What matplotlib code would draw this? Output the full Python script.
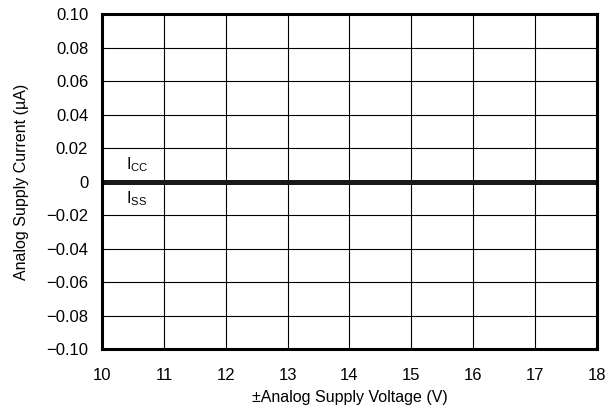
import matplotlib
matplotlib.use('Agg')
import matplotlib.pyplot as plt
import numpy as np

plt.rcParams['font.family'] = ['Liberation Sans', 'DejaVu Sans']
plt.rcParams['mathtext.fontset'] = 'custom'
plt.rcParams['mathtext.rm'] = 'Liberation Sans'
plt.rcParams['mathtext.it'] = 'Liberation Sans'
plt.rcParams['axes.unicode_minus'] = True

# data
voltage = [10, 11, 12, 13, 14, 15, 16, 17, 18]
icc = [0, 0, 0, 0, 0, 0, 0, 0, 0]
iss = [0, 0, 0, 0, 0, 0, 0, 0, 0]
xticks = [10, 11, 12, 13, 14, 15, 16, 17, 18]
yticks = [-0.10, -0.08, -0.06, -0.04, -0.02, 0, 0.02, 0.04, 0.06, 0.08, 0.10]

fig = plt.figure(figsize=(6.11, 4.15), dpi=100)
ax = fig.add_axes([0.167, 0.159, 0.810, 0.807])

ax.plot(voltage, icc, color='#1a1a1a', lw=3.6, solid_capstyle='butt')
ax.plot(voltage, iss, color='#1a1a1a', lw=3.6, solid_capstyle='butt')

ax.set_xlim(10, 18)
ax.set_ylim(-0.10, 0.10)
ax.set_xticks(xticks)
ax.set_yticks(yticks)
ax.set_yticklabels(['0' if v == 0 else f'{v:.2f}'.replace('-', '\u2212') for v in yticks])
ax.grid(True, color='black', lw=0.8)
ax.tick_params(length=0, labelsize=12)
ax.tick_params(axis='y', pad=10)
ax.tick_params(axis='x', pad=14)
for s in ax.spines.values():
    s.set_linewidth(2.2)

ax.text(10.38, 0.0045, r'I$_{\mathrm{CC}}$', fontsize=11.5, va='bottom')
ax.text(10.38, -0.0045, r'I$_{\mathrm{SS}}$', fontsize=11.5, va='top')

ax.set_xlabel('\u00b1Analog Supply Voltage (V)', fontsize=11.5, labelpad=5)
ax.set_ylabel('Analog Supply Current (\u00b5A)', fontsize=11.5, labelpad=12)

fig.savefig('out.png', dpi=100)
